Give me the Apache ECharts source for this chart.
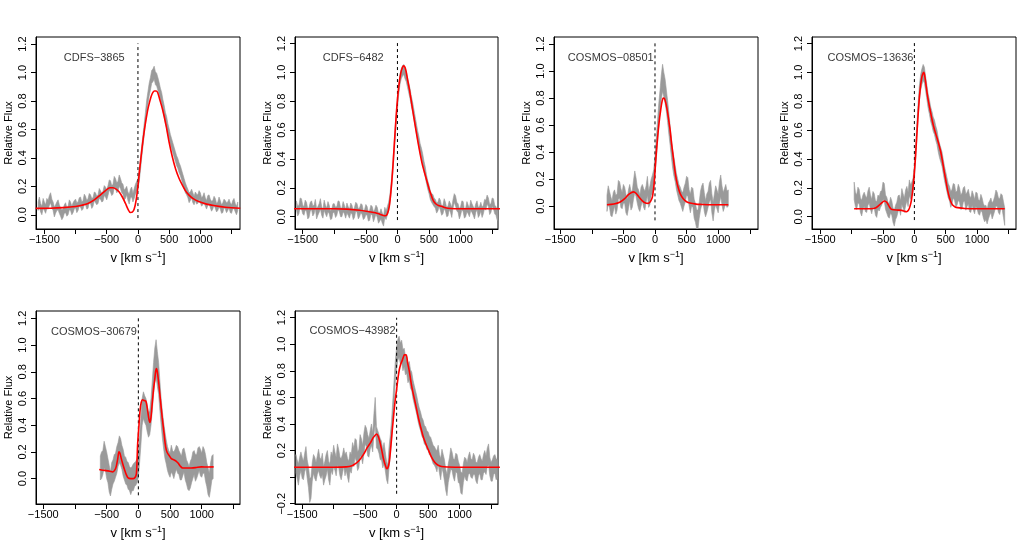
<!DOCTYPE html>
<html><head><meta charset="utf-8">
<script src="https://cdn.jsdelivr.net/npm/echarts@6/dist/echarts.min.js"></script>
<style>html,body{margin:0;padding:0;background:#fff}#c{width:1035px;height:550px}</style>
</head><body><div id="c"></div>
<script>
const names = ['CDFS\u22123865','CDFS\u22126482','COSMOS\u221208501','COSMOS\u221213636','COSMOS\u221230679','COSMOS\u221243982'];
const xTicks = [-1500,-1000,-500,0,500,1000,1500];
const xLabels = [-1500,-500,0,500,1000];
const yTicks = [0,0.2,0.4,0.6,0.8,1.0,1.2];
const yTicks6 = [-0.2,0,0.2,0.4,0.6,0.8,1.0,1.2];
const yLabels6 = [-0.2,0.2,0.4,0.6,0.8,1.0,1.2];
const labelPos = [-700, 1.1];

const velWide = [-1600,-1580,-1560,-1540,-1520,-1500,-1480,-1460,-1440,-1420,
 -1400,-1380,-1360,-1340,-1320,-1300,-1280,-1260,-1240,-1220,
 -1200,-1180,-1160,-1140,-1120,-1100,-1080,-1060,-1040,-1020,
 -1000,-980,-960,-940,-920,-900,-880,-860,-840,-820,
 -800,-780,-760,-740,-720,-700,-680,-660,-640,-620,
 -600,-580,-560,-540,-520,-500,-480,-460,-440,-420,
 -400,-380,-360,-340,-320,-300,-280,-260,-240,-220,
 -200,-180,-160,-140,-120,-100,-80,-60,-40,-20,
 0,20,40,60,80,100,120,140,160,180,
 200,220,240,260,280,300,320,340,360,380,
 400,420,440,460,480,500,520,540,560,580,
 600,620,640,660,680,700,720,740,760,780,
 800,820,840,860,880,900,920,940,960,980,
 1000,1020,1040,1060,1080,1100,1120,1140,1160,1180,
 1200,1220,1240,1260,1280,1300,1320,1340,1360,1380,
 1400,1420,1440,1460,1480,1500,1520,1540,1560,1580,
 1600];

// Panel 1 CDFS-3865
const flux1 = [0.06,0.09,0.05,0.03,0.08,0.06,0.04,0.08,0.07,0.10,
 0.12,0.08,0.06,0.02,0.04,0.06,0.07,0.04,0.02,0.00,
 0.01,0.04,0.05,0.02,0.03,0.07,0.06,0.03,0.05,0.07,
 0.08,0.05,0.06,0.09,0.09,0.06,0.07,0.11,0.10,0.07,
 0.08,0.12,0.11,0.08,0.09,0.13,0.12,0.10,0.11,0.15,
 0.14,0.12,0.13,0.17,0.16,0.14,0.17,0.21,0.20,0.17,
 0.18,0.23,0.22,0.19,0.20,0.24,0.22,0.19,0.18,0.14,
 0.15,0.17,0.13,0.11,0.15,0.16,0.12,0.15,0.18,0.20,
 0.22,0.27,0.35,0.44,0.52,0.60,0.68,0.76,0.82,0.88,
 0.92,0.97,0.98,1.00,0.96,0.95,0.92,0.89,0.85,0.82,
 0.77,0.73,0.68,0.65,0.60,0.57,0.53,0.50,0.47,0.44,
 0.41,0.38,0.36,0.33,0.31,0.28,0.25,0.22,0.19,0.17,
 0.15,0.12,0.13,0.15,0.12,0.10,0.13,0.11,0.11,0.14,
 0.12,0.09,0.10,0.12,0.09,0.07,0.10,0.11,0.08,0.06,
 0.07,0.10,0.08,0.05,0.06,0.09,0.07,0.04,0.05,0.08,
 0.07,0.05,0.06,0.08,0.05,0.04,0.07,0.08,0.05,0.03,
 0.06];
const err1 = [0.03,0.035,0.03,0.03,0.035,0.03,0.03,0.035,0.03,0.035,
 0.035,0.03,0.03,0.035,0.03,0.03,0.035,0.03,0.03,0.035,
 0.03,0.03,0.035,0.03,0.03,0.035,0.03,0.03,0.035,0.03,
 0.03,0.035,0.03,0.03,0.035,0.03,0.03,0.035,0.03,0.03,
 0.035,0.03,0.03,0.035,0.03,0.03,0.035,0.03,0.03,0.035,
 0.03,0.03,0.035,0.035,0.035,0.035,0.035,0.035,0.04,0.035,
 0.035,0.04,0.035,0.035,0.035,0.04,0.035,0.035,0.035,0.035,
 0.035,0.03,0.03,0.035,0.03,0.035,0.03,0.035,0.035,0.035,
 0.035,0.04,0.04,0.04,0.04,0.04,0.04,0.045,0.045,0.045,
 0.045,0.045,0.045,0.045,0.045,0.045,0.045,0.04,0.04,0.04,
 0.04,0.04,0.04,0.04,0.04,0.035,0.035,0.035,0.035,0.035,
 0.035,0.035,0.035,0.035,0.035,0.035,0.035,0.035,0.035,0.03,
 0.03,0.035,0.03,0.03,0.035,0.03,0.03,0.035,0.03,0.03,
 0.035,0.03,0.03,0.035,0.03,0.03,0.035,0.03,0.03,0.035,
 0.03,0.03,0.035,0.03,0.03,0.035,0.03,0.03,0.035,0.03,
 0.03,0.035,0.03,0.03,0.035,0.03,0.03,0.035,0.03,0.03,
 0.03];
const modelV1 = [-1640,-1400,-1200,-1000,-900,-800,-700,-600,-520,-450,-400,-350,-300,-250,-200,-160,-120,-90,-60,-30,0,25,53,80,105,130,158,185,210,240,263,290,316,350,395,450,500,550,605,660,710,760,815,880,973,1100,1236,1400,1640];
const model1 = [0.045,0.046,0.05,0.058,0.067,0.08,0.105,0.14,0.17,0.19,0.19,0.18,0.16,0.125,0.08,0.04,0.016,0.018,0.04,0.1,0.2,0.31,0.42,0.52,0.6,0.67,0.74,0.79,0.83,0.86,0.87,0.87,0.86,0.81,0.74,0.63,0.51,0.41,0.32,0.255,0.21,0.17,0.14,0.115,0.093,0.075,0.063,0.053,0.046];

// Panel 2 CDFS-6482
const flux2 = [0.08,0.04,0.05,0.10,0.09,0.05,0.04,0.08,0.07,0.02,
 0.03,0.07,0.08,0.04,0.05,0.09,0.02,0.04,0.06,0.09,
 0.04,0.02,0.08,0.05,0.03,0.07,0.05,0.01,0.02,0.06,
 0.06,0.03,0.04,0.08,0.07,0.03,0.03,0.07,0.05,0.02,
 0.06,0.04,0.02,0.06,0.05,0.01,0.03,0.07,0.06,0.02,
 0.03,0.06,0.05,0.01,0.02,0.05,0.04,0.00,0.01,0.05,
 0.04,0.00,0.02,0.05,0.03,-0.01,0.00,0.02,-0.01,-0.03,
 0.03,0.01,0.04,0.07,0.12,0.20,0.30,0.42,0.55,0.67,
 0.78,0.88,0.95,0.99,1.01,1.02,0.99,0.97,0.93,0.89,
 0.85,0.80,0.76,0.71,0.66,0.61,0.56,0.52,0.47,0.44,
 0.40,0.35,0.31,0.26,0.22,0.19,0.15,0.13,0.12,0.10,
 0.09,0.06,0.07,0.10,0.08,0.04,0.05,0.09,0.07,0.03,
 0.04,0.08,0.06,0.03,0.09,0.13,0.11,0.07,0.06,0.02,
 0.04,0.08,0.07,0.02,0.03,0.07,0.05,0.03,0.08,0.06,
 0.04,0.02,0.06,0.08,0.03,0.04,0.07,0.03,0.05,0.09,
 0.08,0.12,0.10,0.05,0.06,0.10,0.09,0.05,0.04,0.01,
 0.01];
const err2 = [0.03,0.035,0.03,0.03,0.035,0.03,0.03,0.035,0.03,0.035,
 0.035,0.03,0.03,0.035,0.03,0.03,0.035,0.03,0.03,0.035,
 0.03,0.03,0.035,0.03,0.03,0.035,0.03,0.03,0.035,0.03,
 0.03,0.035,0.03,0.03,0.035,0.03,0.03,0.035,0.03,0.03,
 0.035,0.03,0.03,0.035,0.03,0.03,0.035,0.03,0.03,0.035,
 0.03,0.03,0.035,0.03,0.03,0.035,0.03,0.03,0.035,0.03,
 0.03,0.035,0.03,0.03,0.035,0.035,0.03,0.035,0.035,0.035,
 0.035,0.03,0.03,0.03,0.03,0.035,0.035,0.035,0.035,0.035,
 0.035,0.035,0.035,0.035,0.035,0.035,0.035,0.035,0.035,0.035,
 0.035,0.035,0.035,0.035,0.035,0.035,0.035,0.035,0.035,0.035,
 0.035,0.035,0.035,0.03,0.03,0.03,0.03,0.03,0.035,0.03,
 0.03,0.035,0.03,0.03,0.035,0.03,0.03,0.035,0.03,0.03,
 0.035,0.03,0.03,0.035,0.03,0.03,0.035,0.03,0.03,0.035,
 0.03,0.03,0.035,0.03,0.03,0.035,0.03,0.03,0.035,0.03,
 0.03,0.035,0.03,0.03,0.035,0.03,0.03,0.035,0.03,0.03,
 0.035,0.03,0.03,0.035,0.03,0.03,0.035,0.03,0.03,0.035,
 0.03];
const modelV2 = [-1640,-1000,-800,-600,-450,-350,-280,-220,-190,-160,-130,-100,-70,-40,-10,20,50,80,100,130,160,190,230,285,340,390,445,490,530,570,610,650,700,760,840,1000,1640];
const model2 = [0.055,0.055,0.053,0.045,0.035,0.028,0.018,0.008,0.007,0.02,0.07,0.19,0.36,0.57,0.76,0.9,0.99,1.035,1.045,1.02,0.95,0.88,0.77,0.62,0.48,0.37,0.28,0.21,0.155,0.11,0.088,0.078,0.072,0.062,0.057,0.055,0.055];

// Panel 3 COSMOS-08501
const vel3 = [-760,-740,-720,-700,-680,-660,-640,-620,-600,-580,
 -560,-540,-520,-500,-480,-460,-440,-420,-400,-380,
 -360,-340,-320,-300,-280,-260,-240,-220,-200,-180,
 -160,-140,-120,-100,-80,-60,-40,-20,0,20,
 40,60,80,100,120,140,160,180,200,220,
 240,260,280,300,320,340,360,380,400,420,
 440,460,480,500,520,540,560,580,600,620,
 640,660,680,700,720,740,760,780,800,820,
 840,860,880,900,920,940,960,980,1000,1020,
 1040,1060,1080,1100,1120,1140,1160];
const flux3 = [0.02,0.08,0.05,0.00,-0.02,0.03,0.06,0.01,0.03,0.12,
 0.12,0.06,0.04,0.09,0.08,0.02,-0.01,0.05,0.10,0.04,
 0.05,0.12,0.18,0.14,0.08,0.05,0.02,0.07,0.10,0.06,
 0.04,0.09,0.15,0.05,0.08,0.14,0.16,0.20,0.30,0.42,
 0.55,0.68,0.78,0.88,0.95,0.90,0.85,0.78,0.70,0.61,
 0.52,0.43,0.35,0.29,0.24,0.18,0.14,0.10,0.08,0.05,
 0.03,0.07,0.10,0.15,0.14,0.06,0.02,0.07,0.06,-0.02,
 -0.05,-0.10,-0.10,-0.03,0.04,0.08,0.10,0.03,-0.02,0.02,
 0.05,0.10,0.12,0.02,-0.04,0.03,0.08,0.05,0.02,0.10,
 0.15,0.08,0.03,0.06,0.09,0.05,0.06];
const err3 = [0.06,0.07,0.06,0.07,0.06,0.07,0.06,0.07,0.06,0.07,
 0.06,0.07,0.06,0.07,0.06,0.07,0.06,0.07,0.06,0.07,
 0.06,0.07,0.08,0.07,0.06,0.07,0.06,0.07,0.06,0.07,
 0.07,0.06,0.07,0.06,0.07,0.06,0.07,0.07,0.07,0.08,
 0.08,0.08,0.08,0.09,0.10,0.09,0.09,0.08,0.08,0.08,
 0.07,0.07,0.07,0.07,0.06,0.06,0.06,0.06,0.06,0.06,
 0.07,0.07,0.07,0.07,0.07,0.06,0.07,0.07,0.07,0.07,
 0.07,0.07,0.07,0.06,0.07,0.07,0.07,0.07,0.06,0.07,
 0.06,0.07,0.07,0.07,0.07,0.06,0.07,0.07,0.07,0.08,
 0.08,0.07,0.07,0.07,0.07,0.06,0.06];
const modelV3 = [-760,-650,-550,-480,-420,-370,-340,-300,-250,-200,-150,-110,-70,-40,-15,0,20,42,65,90,110,132,150,168,190,210,240,263,290,316,340,368,400,447,500,553,650,737,900,1160];
const model3 = [0.01,0.015,0.03,0.055,0.085,0.1,0.105,0.095,0.065,0.038,0.022,0.02,0.035,0.07,0.16,0.26,0.39,0.51,0.62,0.71,0.77,0.8,0.795,0.77,0.72,0.66,0.56,0.46,0.36,0.26,0.19,0.135,0.09,0.054,0.032,0.022,0.014,0.012,0.01,0.01];

// Panel 4 COSMOS-13636
const vel4 = [-960,-940,-920,-900,-880,-860,-840,-820,-800,-780,
 -760,-740,-720,-700,-680,-660,-640,-620,-600,-580,
 -560,-540,-520,-500,-480,-460,-440,-420,-400,-380,
 -360,-340,-320,-300,-280,-260,-240,-220,-200,-180,
 -160,-140,-120,-100,-80,-60,-40,-20,0,20,
 40,60,80,100,120,140,160,180,200,220,
 240,260,280,300,320,340,360,380,400,420,
 440,460,480,500,520,540,560,580,600,620,
 640,660,680,700,720,740,760,780,800,820,
 840,860,880,900,920,940,960,980,1000,1020,
 1040,1060,1080,1100,1120,1140,1160,1180,1200,1220,
 1240,1260,1280,1300,1320,1340,1360,1380,1400,1420,
 1440];
const flux4 = [0.18,0.12,0.10,0.15,0.14,0.08,0.06,0.10,0.12,0.09,
 0.08,0.13,0.15,0.10,0.07,0.12,0.11,0.06,0.05,0.10,
 0.09,0.12,0.13,0.18,0.17,0.10,0.08,0.05,0.04,0.08,
 0.06,0.01,-0.01,0.03,0.05,0.09,0.10,0.06,0.14,0.11,
 0.08,0.13,0.16,0.12,0.20,0.17,0.19,0.22,0.30,0.45,
 0.60,0.74,0.86,0.93,0.97,1.00,0.98,0.92,0.86,0.80,
 0.76,0.71,0.68,0.64,0.62,0.58,0.55,0.50,0.46,0.43,
 0.40,0.35,0.30,0.26,0.22,0.18,0.16,0.12,0.14,0.18,
 0.17,0.12,0.13,0.17,0.15,0.10,0.11,0.15,0.16,0.10,
 0.12,0.14,0.09,0.08,0.13,0.10,0.07,0.12,0.11,0.07,
 0.06,0.10,0.08,0.04,0.02,0.03,0.00,0.04,0.06,0.08,
 0.04,0.06,0.09,0.13,0.12,0.08,0.07,0.11,0.10,0.05,
 0.00];
const err4 = [0.06,0.05,0.05,0.055,0.05,0.05,0.055,0.05,0.05,0.055,
 0.05,0.05,0.055,0.05,0.05,0.055,0.05,0.05,0.055,0.05,
 0.05,0.055,0.05,0.06,0.06,0.05,0.055,0.05,0.05,0.055,
 0.05,0.05,0.055,0.05,0.05,0.055,0.05,0.05,0.055,0.05,
 0.05,0.055,0.05,0.05,0.055,0.05,0.05,0.05,0.05,0.05,
 0.05,0.05,0.05,0.055,0.055,0.055,0.055,0.05,0.05,0.05,
 0.05,0.05,0.05,0.05,0.05,0.05,0.05,0.05,0.05,0.05,
 0.05,0.05,0.05,0.05,0.05,0.05,0.05,0.055,0.05,0.05,
 0.055,0.05,0.05,0.055,0.05,0.05,0.055,0.05,0.05,0.055,
 0.05,0.05,0.055,0.05,0.05,0.055,0.05,0.05,0.055,0.05,
 0.05,0.055,0.05,0.05,0.055,0.05,0.05,0.055,0.05,0.05,
 0.055,0.05,0.05,0.055,0.05,0.05,0.055,0.05,0.05,0.055,
 0.06];
const modelV4 = [-960,-700,-620,-560,-510,-478,-440,-400,-370,-330,-261,-200,-150,-125,-95,-71,-45,-16,11,30,54,75,92,112,130,150,165,185,205,228,255,283,310,337,365,391,420,446,473,500,527,554,580,609,650,690,800,1000,1440];
const model4 = [0.055,0.055,0.06,0.08,0.1,0.109,0.1,0.07,0.053,0.048,0.046,0.044,0.037,0.035,0.045,0.07,0.12,0.23,0.37,0.5,0.67,0.8,0.88,0.95,0.985,1.0,0.975,0.915,0.85,0.79,0.73,0.67,0.62,0.58,0.54,0.5,0.45,0.39,0.32,0.255,0.19,0.14,0.105,0.081,0.068,0.063,0.057,0.055,0.055];

// Panel 5 COSMOS-30679
const vel5 = [-600,-580,-560,-540,-520,-500,-480,-460,-440,-420,
 -400,-380,-360,-340,-320,-300,-280,-260,-240,-220,
 -200,-180,-160,-140,-120,-100,-80,-60,-40,-20,
 0,20,40,60,80,100,120,140,160,180,
 200,220,240,260,280,300,320,340,360,380,
 400,420,440,460,480,500,520,540,560,580,
 600,620,640,660,680,700,720,740,760,780,
 800,820,840,860,880,900,920,940,960,980,
 1000,1020,1040,1060,1080,1100,1120,1140,1160,1180];
const flux5 = [0.08,0.10,0.12,0.18,0.15,0.10,0.06,0.00,-0.04,0.02,
 0.05,0.08,0.10,0.14,0.18,0.22,0.20,0.16,0.12,0.08,
 0.06,0.04,0.02,0.00,-0.02,0.00,0.01,0.03,0.04,0.06,
 0.10,0.22,0.35,0.50,0.55,0.52,0.50,0.45,0.40,0.42,
 0.50,0.62,0.75,0.85,0.90,0.82,0.75,0.62,0.50,0.40,
 0.32,0.25,0.20,0.15,0.12,0.10,0.15,0.12,0.10,0.13,
 0.16,0.14,0.12,0.09,0.08,0.12,0.14,0.09,0.05,0.02,
 0.00,0.03,0.06,0.10,0.12,0.08,0.09,0.13,0.15,0.12,
 0.10,0.14,0.13,0.08,0.03,-0.02,-0.05,0.02,0.08,0.09];
const err5 = [0.09,0.1,0.09,0.1,0.09,0.1,0.09,0.1,0.09,0.1,
 0.09,0.1,0.09,0.1,0.09,0.1,0.1,0.09,0.1,0.09,
 0.1,0.09,0.1,0.09,0.1,0.09,0.1,0.09,0.09,0.09,
 0.09,0.1,0.1,0.1,0.1,0.1,0.1,0.1,0.09,0.09,
 0.1,0.11,0.12,0.13,0.14,0.13,0.12,0.11,0.1,0.1,
 0.1,0.1,0.09,0.09,0.09,0.09,0.1,0.09,0.1,0.09,
 0.09,0.1,0.09,0.1,0.09,0.1,0.09,0.1,0.09,0.1,
 0.09,0.1,0.09,0.1,0.09,0.1,0.09,0.1,0.09,0.1,
 0.09,0.1,0.09,0.1,0.09,0.1,0.09,0.1,0.09,0.09];
const modelV5 = [-618,-560,-511,-450,-403,-370,-349,-325,-306,-290,-269,-240,-215,-190,-161,-120,-81,-50,-30,-11,10,27,45,65,90,118,140,165,183,200,215,240,258,272,285,300,323,350,376,403,430,455,484,520,565,600,630,660,699,760,833,900,995,1100,1188];
const model5 = [0.068,0.063,0.06,0.055,0.05,0.065,0.09,0.15,0.2,0.19,0.15,0.1,0.063,0.03,0.005,0.0,0.0,0.01,0.04,0.26,0.4,0.51,0.57,0.59,0.585,0.58,0.53,0.45,0.42,0.46,0.54,0.67,0.74,0.8,0.825,0.8,0.71,0.58,0.46,0.35,0.24,0.195,0.175,0.15,0.14,0.13,0.115,0.095,0.08,0.08,0.08,0.082,0.088,0.087,0.088];

// Panel 6 COSMOS-43982
const flux6 = [0.10,0.06,0.02,0.08,0.12,0.07,0.05,0.11,0.15,0.06,
 0.00,-0.10,-0.08,0.04,0.10,0.07,0.04,0.09,0.13,0.08,
 0.06,0.10,0.01,0.05,0.09,0.13,0.05,0.02,0.12,0.09,
 0.16,0.12,0.08,0.17,0.14,0.08,0.06,0.10,0.15,0.09,
 0.12,0.07,0.04,0.12,0.10,0.18,0.15,0.22,0.20,0.12,
 0.14,0.24,0.22,0.17,0.25,0.32,0.30,0.24,0.22,0.28,
 0.32,0.26,0.40,0.50,0.30,0.28,0.25,0.21,0.20,0.14,
 0.18,0.12,0.05,0.02,0.15,0.24,0.35,0.50,0.65,0.80,
 0.90,0.96,0.98,0.93,0.95,0.88,0.90,0.84,0.85,0.78,
 0.80,0.74,0.72,0.66,0.62,0.58,0.54,0.49,0.45,0.42,
 0.38,0.36,0.32,0.31,0.28,0.27,0.24,0.23,0.20,0.17,
 0.16,0.14,0.12,0.17,0.10,0.06,0.14,0.10,0.05,-0.02,
 -0.06,0.03,0.08,0.14,0.12,0.07,0.05,0.11,0.10,0.04,
 0.02,-0.04,-0.05,0.03,0.08,0.06,0.04,0.09,0.11,0.07,
 0.06,0.10,0.09,0.04,0.03,0.08,0.10,0.06,0.05,0.10,
 0.12,0.09,0.15,0.17,0.08,0.04,0.05,0.09,0.10,0.06,
 0.06];
const err6 = [0.07,0.07,0.08,0.07,0.07,0.08,0.07,0.07,0.08,0.07,
 0.08,0.09,0.08,0.07,0.07,0.08,0.07,0.07,0.08,0.07,
 0.07,0.08,0.07,0.07,0.08,0.07,0.07,0.08,0.07,0.07,
 0.08,0.07,0.07,0.08,0.07,0.07,0.08,0.07,0.07,0.08,
 0.07,0.07,0.08,0.07,0.07,0.08,0.07,0.07,0.08,0.07,
 0.07,0.08,0.07,0.07,0.08,0.07,0.07,0.08,0.07,0.07,
 0.08,0.07,0.08,0.1,0.08,0.07,0.07,0.08,0.07,0.07,
 0.08,0.07,0.07,0.07,0.08,0.08,0.08,0.08,0.08,0.08,
 0.08,0.08,0.08,0.08,0.08,0.08,0.07,0.07,0.07,0.07,
 0.07,0.07,0.07,0.07,0.07,0.07,0.07,0.07,0.07,0.07,
 0.07,0.07,0.07,0.07,0.07,0.07,0.07,0.07,0.07,0.07,
 0.07,0.07,0.08,0.07,0.07,0.08,0.07,0.07,0.08,0.08,
 0.08,0.07,0.07,0.08,0.07,0.07,0.08,0.07,0.07,0.08,
 0.07,0.08,0.08,0.07,0.07,0.08,0.07,0.07,0.08,0.07,
 0.07,0.08,0.07,0.07,0.08,0.07,0.07,0.08,0.07,0.07,
 0.08,0.07,0.07,0.08,0.07,0.07,0.08,0.07,0.07,0.08,
 0.07];
const modelV6 = [-1640,-1000,-800,-710,-660,-629,-580,-521,-470,-414,-375,-349,-317,-290,-263,-235,-210,-180,-156,-140,-118,-100,-81,-60,-38,-20,0,20,43,65,86,105,124,150,175,204,230,258,300,339,380,419,460,500,550,608,660,715,800,930,1640];
const model6 = [0.075,0.075,0.077,0.085,0.1,0.11,0.135,0.175,0.22,0.26,0.295,0.31,0.325,0.305,0.26,0.2,0.14,0.09,0.063,0.07,0.11,0.19,0.29,0.4,0.51,0.59,0.66,0.74,0.81,0.85,0.875,0.9,0.92,0.92,0.86,0.79,0.71,0.64,0.55,0.46,0.38,0.31,0.255,0.21,0.155,0.11,0.09,0.08,0.076,0.075,0.075];

// dashed v=0 line extent (y bottom, y top) per panel
const zeroLo = [-0.023,-0.023,-0.106,-0.023,-0.125,-0.125];
const zeroHi = [1.205,1.205,1.205,1.205,1.21,1.2];

// ---- layout (pixels) ----
const gridPos = [[36,37,204,192],[295,37,203,192],[554,37,204,192],[812,37,204,192],[36,311,204,193],[295,311,203,193]];
const xRange = [[-1634,1636],[-1622,1592],[-1598,1630],[-1632,1620],[-1615,1604],[-1614,1610]];
const yRange = [[-0.10,1.25],[-0.085,1.245],[-0.17,1.252],[-0.085,1.245],[-0.19,1.255],[-0.202,1.25]];

const bandV = [velWide, velWide, vel3, vel4, vel5, velWide];
const bandF = [flux1, flux2, flux3, flux4, flux5, flux6];
const bandE = [err1, err2, err3, err4, err5, err6];
const modV = [modelV1, modelV2, modelV3, modelV4, modelV5, modelV6];
const modY = [model1, model2, model3, model4, model5, model6];

const FONT = 'Liberation Sans, Arial, Helvetica, sans-serif';
const fmtMinus = s => String(s).replace('-', '\u2212');

const grids = [], xAxes = [], yAxes = [], series = [];
for (let i = 0; i < 6; i++) {
  const g = gridPos[i];
  grids.push({left: g[0], top: g[1], width: g[2], height: g[3], show: true, borderColor: '#000', borderWidth: 1, backgroundColor: 'transparent', containLabel: false});
  xAxes.push({
    gridIndex: i, type: 'value', min: xRange[i][0], max: xRange[i][1],
    splitLine: {show: false},
    axisLine: {show: true, onZero: false, lineStyle: {color: '#000', width: 1}},
    axisTick: {show: true, length: 5, customValues: xTicks, lineStyle: {color: '#000'}},
    axisLabel: {customValues: xLabels, formatter: v => fmtMinus(v), margin: 5, fontSize: 11, color: '#000', fontFamily: FONT},
    name: 'v [km s{sup|\u22121}]', nameLocation: 'middle', nameGap: 21,
    nameTextStyle: {fontSize: 13, color: '#000', fontFamily: FONT,
      rich: {sup: {fontSize: 9, color: '#000', fontFamily: FONT, padding: [0, 0, 8, 0]}}}
  });
  const yt = i === 5 ? yTicks6 : yTicks;
  const yl = i === 5 ? yLabels6 : yTicks;
  yAxes.push({
    gridIndex: i, type: 'value', min: yRange[i][0], max: yRange[i][1],
    splitLine: {show: false},
    axisLine: {show: true, onZero: false, lineStyle: {color: '#000', width: 1}},
    axisTick: {show: true, length: 5, customValues: yt, lineStyle: {color: '#000'}},
    axisLabel: {customValues: yl, rotate: 90, formatter: v => fmtMinus(Number(v).toFixed(1)), margin: 8, fontSize: 11, color: '#000', fontFamily: FONT},
    name: 'Relative Flux', nameLocation: 'middle', nameGap: 22,
    nameTextStyle: {fontSize: 11, color: '#000', fontFamily: FONT}
  });
  const vArr = bandV[i], fArr = bandF[i], eArr = bandE[i];
  if (vArr.length !== fArr.length || vArr.length !== eArr.length) console.error('length mismatch panel ' + (i + 1), vArr.length, fArr.length, eArr.length);
  const bandData = vArr.map((v, k) => [v, fArr[k] - eArr[k], fArr[k] + eArr[k]]);
  series.push({
    type: 'custom', xAxisIndex: i, yAxisIndex: i, clip: true, silent: true, z: 1,
    data: bandData, encode: {x: 0, y: [1, 2]},
    renderItem: (params, api) => {
      if (params.dataIndex !== 0) return null;
      const up = bandData.map(d => api.coord([d[0], d[2]]));
      const lo = bandData.map(d => api.coord([d[0], d[1]])).reverse();
      return {type: 'polygon', shape: {points: up.concat(lo)}, style: {fill: '#9a9a9a', stroke: '#9a9a9a', lineWidth: 0.6}};
    }
  });
  series.push({
    type: 'line', xAxisIndex: i, yAxisIndex: i, z: 3, silent: true,
    data: [[0, zeroLo[i]], [0, zeroHi[i]]], symbol: 'none',
    lineStyle: {color: '#000', width: 1, type: [3, 3]}
  });
  series.push({
    type: 'line', xAxisIndex: i, yAxisIndex: i, z: 4, silent: true, clip: true,
    data: modV[i].map((v, k) => [v, modY[i][k]]), symbol: 'none', smooth: 0.3,
    lineStyle: {color: '#ff0000', width: 1.6}
  });
  series.push({
    type: 'scatter', xAxisIndex: i, yAxisIndex: i, z: 2, silent: true,
    data: [labelPos], symbolSize: 0,
    label: {show: true, position: 'inside', formatter: names[i], fontSize: 11, color: '#000', fontFamily: FONT}
  });
}

const chart = echarts.init(document.getElementById('c'), null, {renderer: 'canvas', devicePixelRatio: 1});
chart.setOption({backgroundColor: '#fff', animation: false, grid: grids, xAxis: xAxes, yAxis: yAxes, series: series});
</script></body></html>
